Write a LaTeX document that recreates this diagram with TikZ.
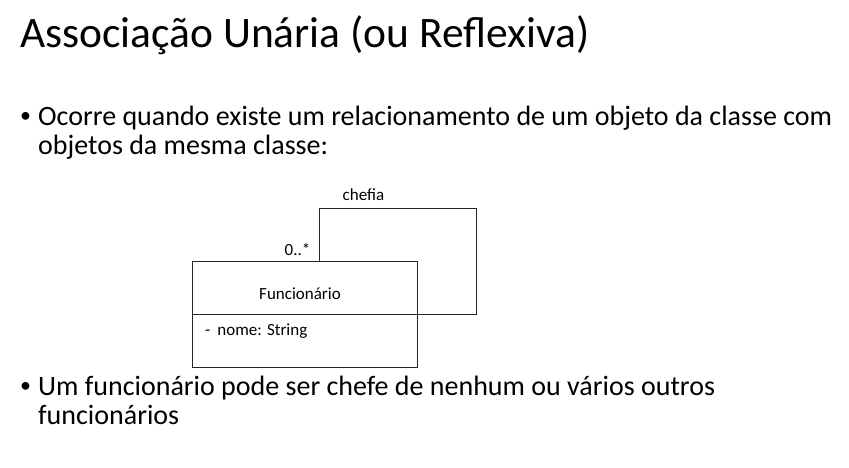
\documentclass[tikz,border=0pt]{standalone}
\usepackage{fontspec}
\setmainfont{Carlito}
\begin{document}
\begin{tikzpicture}[x=1pt,y=-1pt,
  txt/.style={inner sep=0pt, anchor=base west},
  title/.style={txt, font=\fontsize{43.5}{48}\selectfont},
  body/.style={txt, font=\fontsize{28}{30}\selectfont},
  bul/.style={txt, font=\fontsize{22}{24}\selectfont},
  small/.style={inner sep=0pt, font=\fontsize{17}{19}\selectfont},
  line/.style={draw=black!85, line width=0.8pt}]
\useasboundingbox[fill=white] (0,0) rectangle (849,467);
% title
\node[title] (t) at (20,47) {Associação Unária (ou Reflexiva)};
% bullets
\node[bul] (b1) at (20,122) {•};
\node[body] (l1) at (38,125) {Ocorre quando existe um relacionamento de um objeto da classe com};
\node[body] (l2) at (38,154) {objetos da mesma classe:};
\node[bul] (b2) at (20,392) {•};
\node[body] (l3) at (38,395) {Um funcionário pode ser chefe de nenhum ou vários outros};
\node[body] (l4) at (38,424) {funcionários};
% class
\node[line, rectangle, inner sep=0pt, minimum width=225pt, minimum height=106pt, anchor=north west] (cls) at (192,261) {};
\coordinate (dl) at (192,314);
\coordinate (dr) at (417,314);
\draw[line] (dl) -- (dr);
\node[small, anchor=base] (name) at (300,299) {Funcionário};
\node[small, anchor=base west] (attr) at (205,335) {-\hspace{7pt}nome: String};
% self association
\coordinate (s) at (319,261);
\draw[line] (s) -- (319,208) -- (476,208) -- (476,314) -- (dr);
\node[small, anchor=base] (role) at (363.5,200.5) {chefia};
\node[small, anchor=base east] (mult) at (310.5,255) {0..*};
\end{tikzpicture}
\end{document}
